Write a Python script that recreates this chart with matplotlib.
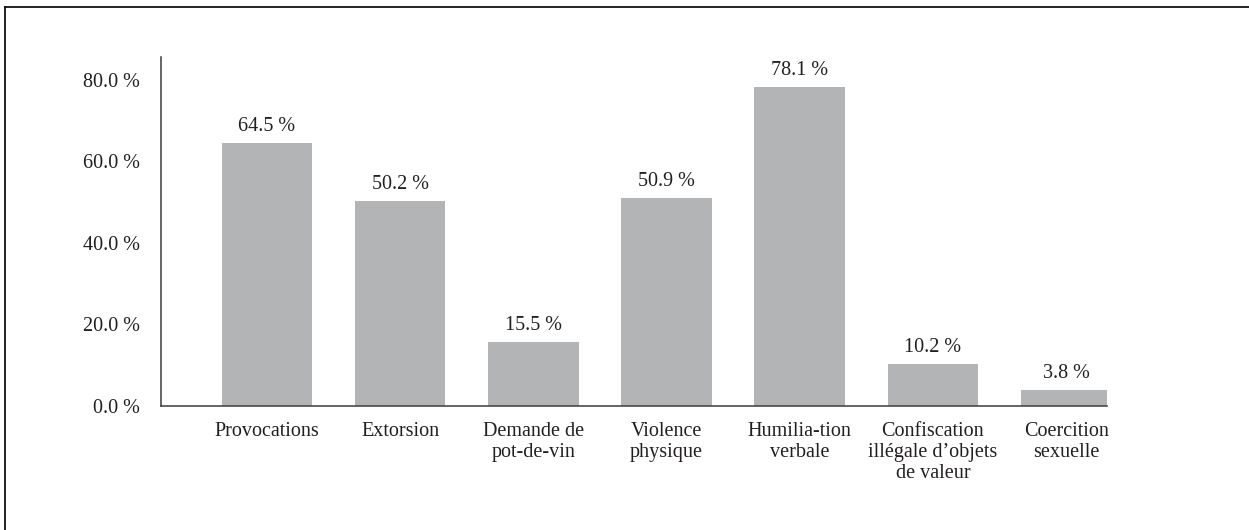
import matplotlib
matplotlib.use("Agg")
import matplotlib.pyplot as plt
from matplotlib.lines import Line2D
import numpy as np

categories = [
    "Provocations",
    "Extorsion",
    "Demande de\npot-de-vin",
    "Violence\nphysique",
    "Humilia-tion\nverbale",
    "Confiscation\nillégale d’objets\nde valeur",
    "Coercition\nsexuelle",
]
values = [64.5, 50.2, 15.5, 50.9, 78.1, 10.2, 3.8]
y_ticks = [0, 20, 40, 60, 80]

plt.rcParams["font.family"] = ["Liberation Serif", "DejaVu Serif"]
text_color = "#231f20"
bar_color = "#b3b4b6"
axis_color = "#3c3c3c"
fs = 14.5

fig = plt.figure(figsize=(12.49, 5.30), dpi=100)
ax = fig.add_axes([0.1289, 0.2349, 0.8863 - 0.1289, 0.8919 - 0.2349])

x = np.arange(len(categories))
ax.bar(x, values, width=0.68, color=bar_color, zorder=2)

for xi, v in zip(x, values):
    ax.annotate(f"{v:.1f} %", (xi, v), xytext=(0, 5), textcoords="offset points",
                ha="center", va="bottom", fontsize=fs, color=text_color)

ax.set_xlim(-0.795, 6.307)
ax.set_ylim(0, 85.5)
ax.set_yticks(y_ticks)
ax.set_yticklabels([f"{t:.1f} %" for t in y_ticks])
ax.set_xticks(x)
ax.set_xticklabels(categories, linespacing=1.13)

ax.tick_params(axis="y", length=0, pad=15, labelsize=fs, labelcolor=text_color)
ax.tick_params(axis="x", length=0, pad=12, labelsize=fs, labelcolor=text_color)
for lbl in ax.get_yticklabels():
    lbl.set_verticalalignment("center_baseline")

for side in ("top", "right"):
    ax.spines[side].set_visible(False)
for side in ("left", "bottom"):
    ax.spines[side].set_color(axis_color)
    ax.spines[side].set_linewidth(1.1)

# Frame open on the right and bottom edges
fig.add_artist(Line2D([5 / 1249, 1.0], [1 - 7 / 530, 1 - 7 / 530],
                      transform=fig.transFigure, color="#111111", linewidth=1.3))
fig.add_artist(Line2D([5 / 1249, 5 / 1249], [0.0, 1 - 7 / 530],
                      transform=fig.transFigure, color="#111111", linewidth=1.3))

fig.savefig("out.png", dpi=100)
